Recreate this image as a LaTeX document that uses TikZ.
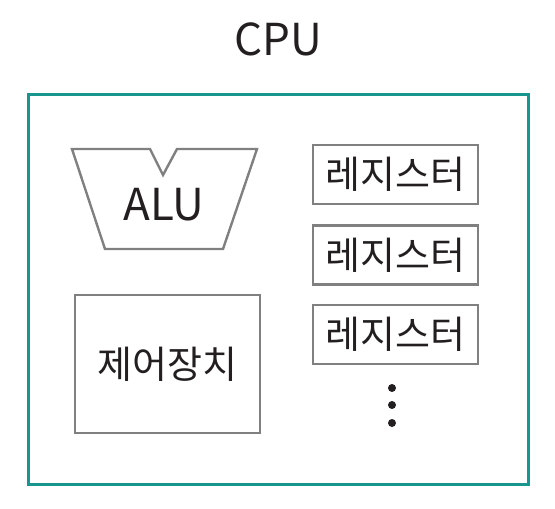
\documentclass[tikz,border=0pt]{standalone}
\usepackage{fontspec}
\setmainfont{Noto Sans CJK KR}
\usetikzlibrary{positioning, calc}
\definecolor{cputeal}{RGB}{22, 150, 140}
\definecolor{partgray}{RGB}{128, 128, 128}
\definecolor{textdark}{RGB}{35, 31, 32}
\tikzset{
  cpubox/.style={draw=cputeal, line width=1.5pt},
  partbox/.style={
    rectangle, draw=partgray, line width=1.2pt, inner sep=0pt,
    text=textdark, font=\fontsize{19}{22}\selectfont
  },
  bigtext/.style={text=textdark, font=\fontsize{22}{26}\selectfont, inner sep=0pt},
  dot/.style={circle, fill=textdark, inner sep=0pt, minimum size=4pt}
}
\begin{document}
\begin{tikzpicture}[x=0.5pt, y=-0.5pt]
  \useasboundingbox (0,0) rectangle (555,508);

  %% ---- CPU frame and title ----
  \node[bigtext] (cputitle) at (278,39) {CPU};
  \draw[cpubox] (28,94) rectangle (528,484);

  %% ---- ALU: notched trapezoid ----
  \coordinate (alutl) at (72,149);
  \coordinate (alutr) at (257,149);
  \coordinate (alubl) at (105,249);
  \coordinate (alubr) at (223,249);
  \draw[partgray, line width=1.2pt, line join=miter]
    (alutl) -- (150,149) -- (163,175) -- (177,149) -- (alutr)
    -- (alubr) -- (alubl) -- cycle;
  \node[bigtext] (alu) at (164,205) {ALU};

  %% ---- control unit ----
  \node[partbox, minimum width=92.5pt, minimum height=69pt] (ctrl)
    at (167.5,364) {제어장치};

  %% ---- registers ----
  \node[partbox, minimum width=82.5pt, minimum height=29.5pt] (reg1)
    at (395.5,174.5) {레지스터};
  \node[partbox, minimum width=82.5pt, minimum height=29.5pt] (reg2)
    at (395.5,255) {레지스터};
  \node[partbox, minimum width=82.5pt, minimum height=29.5pt] (reg3)
    at (395.5,334.5) {레지스터};

  %% ---- more registers ----
  \node[dot] (dot1) at (392,388) {};
  \node[dot] (dot2) at (392,405) {};
  \node[dot] (dot3) at (392,423) {};

\end{tikzpicture}
\end{document}
